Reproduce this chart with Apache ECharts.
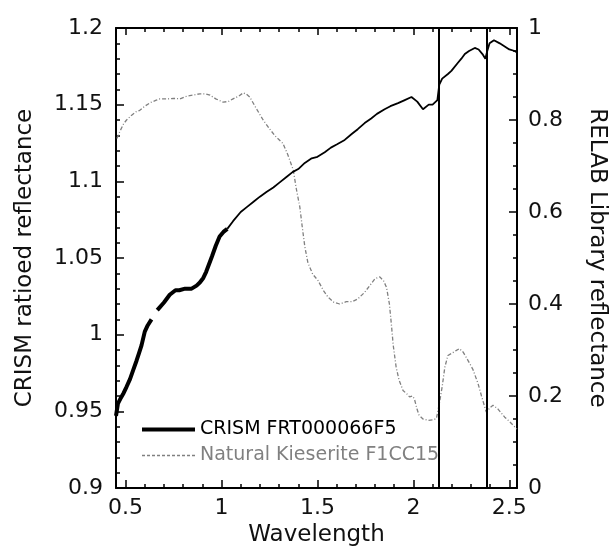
<!DOCTYPE html>
<html>
<head>
<meta charset="utf-8">
<script src="https://cdn.jsdelivr.net/npm/echarts@6/dist/echarts.min.js"></script>
<style>html,body{margin:0;padding:0;background:#fff;}#c{width:610px;height:548px;}</style>
</head>
<body>
<div id="c"></div>
<script>
// ---- data ----
const crismThickWl  = [0.450,0.460,0.472,0.490,0.505,0.523,0.540,0.557,0.570,0.583,0.600,0.615,0.635,0.650,0.665,0.679,0.700,0.730,0.760,0.780,0.810,0.844,0.870,0.887,0.905,0.920,0.950,0.970,0.990,1.010,1.030];
const crismThickVal = [0.947,0.955,0.958,0.962,0.966,0.971,0.977,0.983,0.988,0.993,1.002,1.006,1.010,null,1.016,1.018,1.021,1.026,1.029,1.029,1.030,1.030,1.032,1.034,1.037,1.041,1.051,1.058,1.064,1.067,1.069];
const crismThinWl  = [1.030,1.060,1.100,1.130,1.170,1.200,1.234,1.270,1.300,1.340,1.370,1.400,1.434,1.470,1.500,1.538,1.570,1.600,1.642,1.680,1.710,1.746,1.780,1.810,1.850,1.880,1.920,1.955,1.990,2.020,2.050,2.080,2.100,2.125,2.135,2.150,2.180,2.198,2.230,2.250,2.268,2.290,2.320,2.340,2.360,2.375,2.385,2.397,2.420,2.450,2.476,2.500,2.528,2.540];
const crismThinVal = [1.069,1.074,1.080,1.083,1.087,1.090,1.093,1.096,1.099,1.103,1.106,1.108,1.112,1.115,1.116,1.119,1.122,1.124,1.127,1.131,1.134,1.138,1.141,1.144,1.147,1.149,1.151,1.153,1.155,1.152,1.147,1.150,1.150,1.153,1.163,1.167,1.170,1.172,1.177,1.180,1.183,1.185,1.187,1.186,1.183,1.180,1.185,1.190,1.192,1.190,1.188,1.186,1.185,1.184];
const kieseriteWl  = [0.455,0.470,0.490,0.505,0.530,0.555,0.574,0.600,0.630,0.660,0.679,0.720,0.750,0.783,0.820,0.850,0.887,0.915,0.940,0.970,1.008,1.035,1.060,1.090,1.113,1.130,1.147,1.180,1.217,1.250,1.280,1.320,1.345,1.374,1.390,1.408,1.420,1.434,1.450,1.475,1.503,1.530,1.555,1.585,1.616,1.650,1.680,1.710,1.745,1.780,1.800,1.825,1.845,1.860,1.875,1.885,1.895,1.910,1.925,1.946,1.965,1.980,1.995,2.005,2.020,2.030,2.050,2.076,2.100,2.120,2.128,2.135,2.150,2.164,2.180,2.200,2.220,2.240,2.260,2.285,2.310,2.337,2.355,2.372,2.380,2.390,2.400,2.415,2.440,2.476,2.500,2.528,2.540];
const kieseriteVal = [0.760,0.775,0.792,0.800,0.810,0.818,0.821,0.830,0.838,0.843,0.846,0.846,0.847,0.846,0.852,0.854,0.857,0.857,0.854,0.846,0.839,0.840,0.846,0.852,0.859,0.856,0.850,0.826,0.800,0.781,0.765,0.749,0.725,0.691,0.650,0.611,0.570,0.525,0.490,0.465,0.451,0.430,0.415,0.404,0.400,0.405,0.405,0.411,0.425,0.444,0.455,0.459,0.450,0.436,0.400,0.357,0.310,0.263,0.235,0.212,0.205,0.198,0.200,0.194,0.170,0.158,0.150,0.147,0.148,0.151,0.155,0.183,0.220,0.263,0.288,0.293,0.298,0.303,0.295,0.277,0.258,0.227,0.200,0.176,0.165,0.162,0.175,0.180,0.172,0.154,0.145,0.133,0.128];
const verticalLines = [2.13, 2.38];
const xMajorTicks = [0.5, 1, 1.5, 2, 2.5];
const xMinorTicks = [0.5,0.6,0.7,0.8,0.9,1.0,1.1,1.2,1.3,1.4,1.5,1.6,1.7,1.8,1.9,2.0,2.1,2.2,2.3,2.4,2.5];
const seriesNames = ['CRISM FRT000066F5', 'Natural Kieserite F1CC15'];
const axisNames = {x: 'Wavelength', left: 'CRISM ratioed reflectance', right: 'RELAB Library reflectance'};

const zip = (a, b) => a.map((v, i) => [v, b[i]]);
const FONT = 'DejaVu Sans';
const X_MIN = 0.45, X_MAX = 2.54;

const chart = echarts.init(document.getElementById('c'), null, {renderer: 'canvas'});

function xAx(opts) {
  return Object.assign({
    type: 'value', min: X_MIN, max: X_MAX, gridIndex: 0,
    splitLine: {show: false},
    axisLine: {show: false, lineStyle: {color: '#000', width: 2}},
    axisLabel: {show: false},
    axisTick: {show: false}
  }, opts);
}

chart.setOption({
  animation: false,
  backgroundColor: '#fff',
  grid: {left: 116, right: 93, top: 28, bottom: 60, containLabel: false, outerBoundsMode: 'none'},
  legend: {
    orient: 'vertical', left: 135, top: 415,
    itemWidth: 53, itemHeight: 12, itemGap: 7,
    textStyle: {fontFamily: FONT, fontSize: 19},
    itemStyle: {opacity: 0},
    data: [
      {name: seriesNames[0], textStyle: {color: '#000'}, lineStyle: {width: 4, color: '#000'}, itemStyle: {opacity: 0}},
      {name: seriesNames[1], textStyle: {color: '#808080'}, lineStyle: {width: 1.3, color: '#808080', type: [3, 2]}, itemStyle: {opacity: 0}}
    ],
    selectedMode: false
  },
  xAxis: [
    xAx({
      position: 'bottom',
      name: axisNames.x, nameLocation: 'middle', nameGap: 36,
      nameTextStyle: {fontFamily: FONT, fontSize: 23, color: '#111'},
      axisLine: {show: true, onZero: false, lineStyle: {color: '#000', width: 2}},
      axisLabel: {show: true, customValues: xMajorTicks, fontFamily: FONT, fontSize: 22, color: '#111', margin: 9,
                  formatter: v => String(+v.toFixed(2))},
      axisTick: {show: true, inside: true, length: 8, customValues: xMajorTicks, lineStyle: {color: '#000', width: 1.5}}
    }),
    xAx({
      position: 'top',
      axisLine: {show: true, onZero: false, lineStyle: {color: '#000', width: 2}},
      axisTick: {show: true, inside: true, length: 7, customValues: xMajorTicks, lineStyle: {color: '#000', width: 1.5}}
    }),
    xAx({
      position: 'bottom',
      axisTick: {show: true, inside: true, length: 4, customValues: xMinorTicks, lineStyle: {color: '#000', width: 1.5}}
    }),
    xAx({
      position: 'top',
      axisTick: {show: true, inside: true, length: 4, customValues: xMinorTicks, lineStyle: {color: '#000', width: 1.5}}
    })
  ],
  yAxis: [
    {
      type: 'value', min: 0.9, max: 1.2, interval: 0.05, position: 'left',
      name: axisNames.left, nameLocation: 'middle', nameGap: 79, nameRotate: 90,
      nameTextStyle: {fontFamily: FONT, fontSize: 23, color: '#111'},
      splitLine: {show: false},
      axisLine: {show: true, onZero: false, lineStyle: {color: '#000', width: 2}},
      axisTick: {show: true, inside: true, length: 8, lineStyle: {color: '#000', width: 1.5}},
      minorTick: {show: true, splitNumber: 5, length: 4, lineStyle: {color: '#000', width: 1.5}},
      axisLabel: {fontFamily: FONT, fontSize: 22, color: '#111', margin: 13}
    },
    {
      type: 'value', min: 0, max: 1, interval: 0.2, position: 'right',
      name: axisNames.right, nameLocation: 'middle', nameGap: 68, nameRotate: -90,
      nameTextStyle: {fontFamily: FONT, fontSize: 23, color: '#111'},
      splitLine: {show: false},
      axisLine: {show: true, onZero: false, lineStyle: {color: '#000', width: 2}},
      axisTick: {show: true, inside: true, length: 8, lineStyle: {color: '#000', width: 1.5}},
      minorTick: {show: true, splitNumber: 4, length: 4, lineStyle: {color: '#000', width: 1.5}},
      axisLabel: {fontFamily: FONT, fontSize: 22, color: '#111', margin: 11}
    }
  ],
  series: [
    {
      name: seriesNames[0], type: 'line', xAxisIndex: 0, yAxisIndex: 0,
      data: zip(crismThickWl, crismThickVal), showSymbol: false, symbol: 'none',
      connectNulls: false, lineStyle: {color: '#000', width: 4}, itemStyle: {color: '#000'}, z: 5
    },
    {
      name: seriesNames[0], type: 'line', xAxisIndex: 0, yAxisIndex: 0,
      data: zip(crismThinWl, crismThinVal), showSymbol: false, symbol: 'none',
      lineStyle: {color: '#000', width: 1.8}, itemStyle: {color: '#000'}, z: 5,
      markLine: {
        silent: true, symbol: ['none', 'none'], label: {show: false},
        lineStyle: {color: '#000', width: 2, type: 'solid'},
        emphasis: {disabled: true},
        data: verticalLines.map(v => ({xAxis: v}))
      }
    },
    {
      name: seriesNames[1], type: 'line', xAxisIndex: 0, yAxisIndex: 1,
      data: zip(kieseriteWl, kieseriteVal), showSymbol: false, symbol: 'none',
      lineStyle: {color: '#808080', width: 1.3, type: [4, 2, 1, 2]}, itemStyle: {color: '#808080'}, z: 4
    }
  ]
});
</script>
</body>
</html>
